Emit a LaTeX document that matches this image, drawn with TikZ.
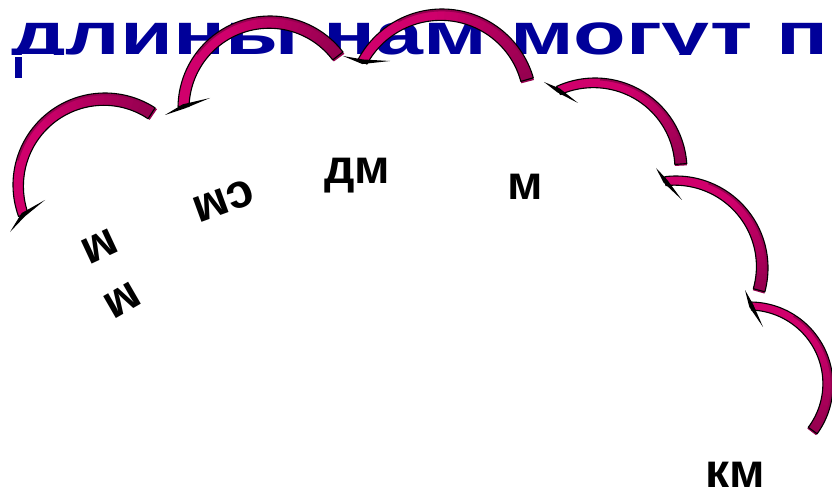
\documentclass[tikz,border=0pt]{standalone}
\usepackage{fontspec}
\setmainfont{Liberation Sans}
\usetikzlibrary{calc}
\definecolor{titleblue}{RGB}{0,0,153}
\definecolor{arrbright}{RGB}{208,0,108}
\definecolor{arrdark}{RGB}{150,0,80}
% #1 cx, #2 cy, #3 R, #4 head angle, #5 tail angle, #6 width at head, #7 width at tail, #8 tip1, #9 tip2
\newcommand{\crvarrow}[9]{%
  \foreach \i in {0,...,29}{%
    \pgfmathsetmacro\ta{(#4)+((#5)-(#4))*\i/30}%
    \pgfmathsetmacro\tb{(#4)+((#5)-(#4))*(\i+1.3)/30}%
    \pgfmathsetmacro\wa{(#6)+((#7)-(#6))*\i/30}%
    \pgfmathsetmacro\wb{(#6)+((#7)-(#6))*(\i+1.3)/30}%
    \pgfmathtruncatemacro\pct{max(0,min(100,(1-\i/29)*170))}%
    \fill[arrbright!\pct!arrdark]
      ({(#1)+(#3)*cos(\ta)},{(#2)+(#3)*sin(\ta)}) --
      ({(#1)+(#3)*cos(\tb)},{(#2)+(#3)*sin(\tb)}) --
      ({(#1)+((#3)-\wb)*cos(\tb)},{(#2)+((#3)-\wb)*sin(\tb)}) --
      ({(#1)+((#3)-\wa)*cos(\ta)},{(#2)+((#3)-\wa)*sin(\ta)}) -- cycle;
  }%
  \draw[arrdark, line width=1.8pt]
    plot[domain={(#4)+0.25*((#5)-(#4))}:{#5}, samples=40, variable=\t]
      ({(#1)+((#3)-1.5)*cos(\t)},{(#2)+((#3)-1.5)*sin(\t)});
  \draw[black, line width=1.1pt, line join=round]
    plot[domain={#4}:{#5}, samples=60, variable=\t]
      ({(#1)+(#3)*cos(\t)},{(#2)+(#3)*sin(\t)}) --
    plot[domain={#5}:{#4}, samples=60, variable=\t]
      ({(#1)+((#3)-((#6)+((#7)-(#6))*(\t-(#4))/((#5)-(#4))))*cos(\t)},
       {(#2)+((#3)-((#6)+((#7)-(#6))*(\t-(#4))/((#5)-(#4))))*sin(\t)}) -- cycle;
  \coordinate (M) at ({(#1)+((#3)-(#6)/2)*cos(#4)},{(#2)+((#3)-(#6)/2)*sin(#4)});
  \coordinate (T1) at #8;
  \coordinate (T2) at #9;
  \coordinate (D) at ($(M)+(T2)-(T1)$);
  \fill[black] (T1) -- ($(M)!2.3pt!90:(D)$) -- (T2) -- ($(M)!2.3pt!-90:(D)$) -- cycle;
}
\tikzset{
  unitlabel/.style={font=\fontsize{48}{48}\selectfont\bfseries, text=black, inner sep=0pt},
}
\begin{document}
\begin{tikzpicture}[x=1pt,y=-1pt]
\useasboundingbox (0,0) rectangle (832,489);
\fill[white] (0,0) rectangle (832,489);
\clip (0,0) rectangle (832,489);
% title, cut at its baseline
\begin{scope}
  \clip (0,0) rectangle (832,55);
  \node[anchor=base west, inner sep=0pt, xscale=1.46, text=titleblue,
        font=\fontsize{59}{59}\selectfont\bfseries] (title) at (11,55) {длины нам могут п};
\end{scope}
\fill[titleblue] (15,57) rectangle (22,78);
% labels
\node[unitlabel, rotate=205] (lmm1) at (100,246) {м};
\node[unitlabel, rotate=210] (lmm2) at (122,300) {м};
\node[unitlabel, rotate=200] (lcm) at (224,201) {см};
\node[unitlabel, anchor=base] (ldm) at (357,183) {дм};
\node[unitlabel, anchor=base] (lm) at (525,200) {м};
\node[unitlabel, anchor=base] (lkm) at (735,487) {км};
% curved arrows
\crvarrow{105}{185}{92}{160}{303}{10}{13}{(10,232)}{(45,200)}
\crvarrow{270}{108}{92}{181}{322.5}{11}{13}{(165,115)}{(210,98)}
\crvarrow{442}{104}{95}{208}{344}{10}{13}{(343,56)}{(390,61)}
\crvarrow{595}{170}{92}{245.4}{356}{9}{12}{(544,82)}{(578,103)}
\crvarrow{676}{268}{92}{263}{375}{9}{12}{(656,168)}{(682,200)}
\crvarrow{750}{385}{83}{271}{396}{8}{11}{(745,290)}{(763,327)}
\end{tikzpicture}
\end{document}
